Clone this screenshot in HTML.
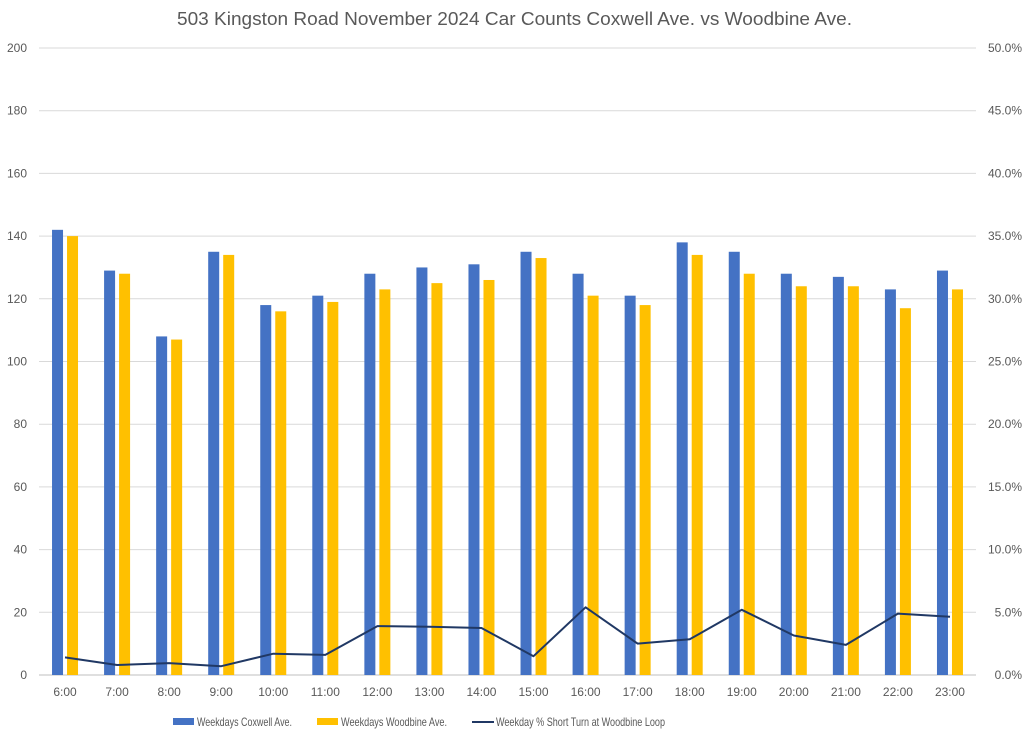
<!DOCTYPE html>
<html><head><meta charset="utf-8">
<style>
html,body{margin:0;padding:0;background:#fff;}
body{width:1024px;height:736px;overflow:hidden;font-family:"Liberation Sans",sans-serif;}
</style></head>
<body>
<svg id="chart" width="1024" height="736" xmlns="http://www.w3.org/2000/svg" font-family="Liberation Sans, sans-serif">
<text x="177" y="25" textLength="675" lengthAdjust="spacingAndGlyphs" font-size="18" fill="#595959">503 Kingston Road November 2024 Car Counts Coxwell Ave. vs Woodbine Ave.</text>
<g id="grid"></g>
<g id="bars"></g>
<g id="line"></g>
<g id="axes"></g>
<g font-size="12" fill="#595959">
<rect x="173" y="718" width="21" height="7" fill="#4472C4"/>
<text x="197" y="726" textLength="95" lengthAdjust="spacingAndGlyphs">Weekdays Coxwell Ave.</text>
<rect x="317" y="718" width="21" height="7" fill="#FFC000"/>
<text x="341" y="726" textLength="106" lengthAdjust="spacingAndGlyphs">Weekdays Woodbine Ave.</text>
<line x1="472" y1="722" x2="494" y2="722" stroke="#203864" stroke-width="2"/>
<text x="496" y="726" textLength="169" lengthAdjust="spacingAndGlyphs">Weekday % Short Turn at Woodbine Loop</text>
</g>
</svg>
<script>
const categories=["6:00","7:00","8:00","9:00","10:00","11:00","12:00","13:00","14:00","15:00","16:00","17:00","18:00","19:00","20:00","21:00","22:00","23:00"];
const coxwell=[142,129,108,135,118,121,128,130,131,135,128,121,138,135,128,127,123,129];
const woodbine=[140,128,107,134,116,119,123,125,126,133,121,118,134,128,124,124,117,123];
const shortTurnPct=[1.4,0.8,0.95,0.7,1.7,1.6,3.9,3.85,3.75,1.5,5.4,2.5,2.85,5.2,3.15,2.4,4.9,4.65];
const leftTicks=[0,20,40,60,80,100,120,140,160,180,200];
const rightTicks=["0.0%","5.0%","10.0%","15.0%","20.0%","25.0%","30.0%","35.0%","40.0%","45.0%","50.0%"];

const NS="http://www.w3.org/2000/svg";
const L=39,R=976,T=48,B=675;
const step=(R-L)/categories.length;
function xc(i){return L+step*(i+0.5);}
function yL(v){return B-(v/200)*(B-T);}
function yR(p){return B-(p/50)*(B-T);}
function mk(tag,attrs,parent){const e=document.createElementNS(NS,tag);for(const k in attrs)e.setAttribute(k,attrs[k]);parent.appendChild(e);return e;}
const grid=document.getElementById('grid'),bars=document.getElementById('bars'),line=document.getElementById('line'),axes=document.getElementById('axes');
leftTicks.forEach((t,i)=>{
  const y=yL(t);
  const g=mk('line',{x1:L,x2:R,y1:y,y2:y,stroke:i==0?'#bfbfbf':'#d9d9d9','stroke-width':1},grid);
  
  
  const lt=mk('text',{x:27,y:y+4,'text-anchor':'end','font-size':12,fill:'#595959'},axes);
  lt.textContent=t;
  
  
  const rt=mk('text',{x:1022,y:y+4,'text-anchor':'end','font-size':12,fill:'#595959'},axes);
  rt.textContent=rightTicks[i];
  
  
});
const bw=11,gap=4;
categories.forEach((c,i)=>{
  const cx=xc(i);
  const b1=mk('rect',{x:cx-gap/2-bw,y:yL(coxwell[i]),width:bw,height:B-yL(coxwell[i]),fill:'#4472C4'},bars);
  
  
  const b2=mk('rect',{x:cx+gap/2,y:yL(woodbine[i]),width:bw,height:B-yL(woodbine[i]),fill:'#FFC000'},bars);
  
  
  const xt=mk('text',{x:cx,y:696,'text-anchor':'middle','font-size':12,fill:'#595959'},axes);
  xt.textContent=c;
  
  
});
const pts=shortTurnPct.map((p,i)=>xc(i).toFixed(1)+','+yR(p).toFixed(1)).join(' ');
const pl=mk('polyline',{points:pts,fill:'none',stroke:'#203864','stroke-width':2,'stroke-linejoin':'round'},line);


</script>
</body></html>
